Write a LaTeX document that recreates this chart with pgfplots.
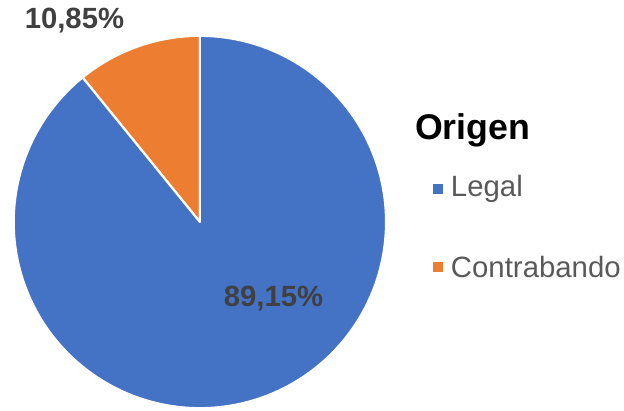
\documentclass[border=0pt]{standalone}
\usepackage{pgfplots}
\usepackage{pgfplotstable}
\pgfplotsset{compat=1.18}
\usepackage{fontspec}
\setmainfont{Liberation Sans}
\definecolor{cblue}{HTML}{4472C4}
\definecolor{corange}{HTML}{ED7D31}
\definecolor{lbl}{HTML}{404040}
\definecolor{leg}{HTML}{595959}
\pgfplotstableread{
label value
Legal 89.15
Contrabando 10.85
}\piedata
\begin{document}
\pgfplotstablegetelem{0}{value}\of\piedata\let\vLegal\pgfplotsretval
\pgfplotstablegetelem{1}{value}\of\piedata\let\vContra\pgfplotsretval
\pgfmathsetmacro{\aOne}{90+3.6*\vContra}
\begin{tikzpicture}
\path[use as bounding box] (0,0) rectangle (624bp,412bp);
\begin{axis}[
  scale only axis, width=624bp, height=412bp,
  xmin=0, xmax=624, ymin=0, ymax=412,
  hide axis, clip=false,
]
\addplot[fill=corange, draw=white, line width=2.2pt, line join=round, domain=90:\aOne, samples=60]
  ({198+187*cos(x)},{189+187*sin(x)}) -- (axis cs:198,189) -- cycle;
\addplot[fill=cblue, draw=white, line width=2.2pt, line join=round, domain=\aOne:450, samples=200]
  ({198+187*cos(x)},{189+187*sin(x)}) -- (axis cs:198,189) -- cycle;
\node[font=\fontsize{29.5}{32}\selectfont\bfseries, text=lbl] at (axis cs:72,391) {10,85\%};
\node[font=\fontsize{29.5}{32}\selectfont\bfseries, text=lbl] at (axis cs:272,112) {89,15\%};
\node[font=\fontsize{36}{38}\selectfont\bfseries, text=black, anchor=west, inner sep=0pt] at (axis cs:414,281) {Origen};
\node[fill=cblue, minimum size=10bp, inner sep=0pt] at (axis cs:437,222) {};
\node[font=\fontsize{29.6}{32}\selectfont, text=leg, anchor=west, inner sep=0pt] at (axis cs:450,222) {Legal};
\node[fill=corange, minimum size=10bp, inner sep=0pt] at (axis cs:437,144) {};
\node[font=\fontsize{29.6}{32}\selectfont, text=leg, anchor=west, inner sep=0pt] at (axis cs:450,144) {Contrabando};
\end{axis}
\end{tikzpicture}
\end{document}
